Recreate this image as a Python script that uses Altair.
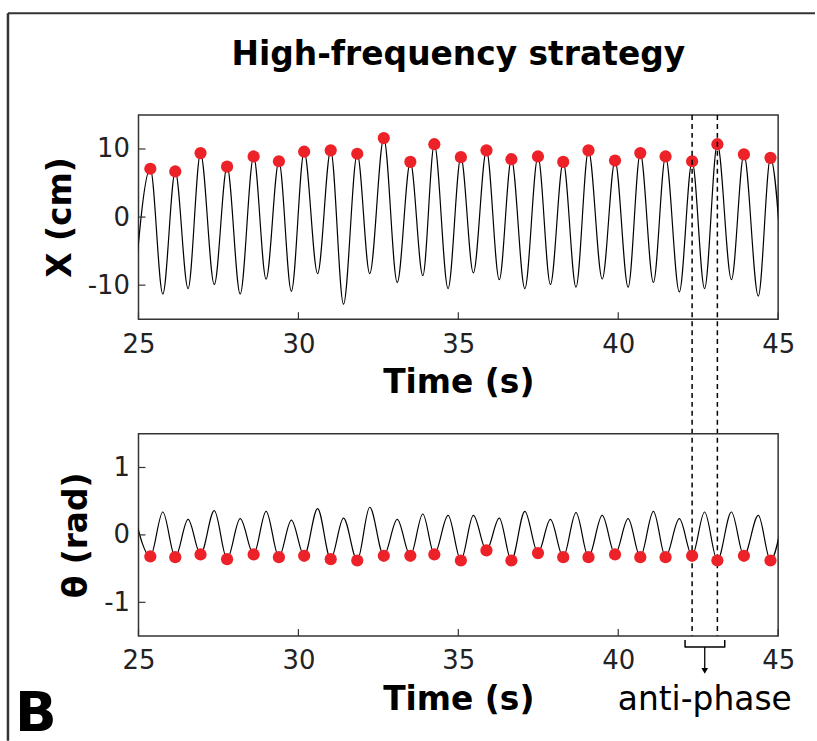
import altair as alt
import pandas as pd

# ---- data ----
# times of X maxima (= theta minima), red dots
peak_t = [25.37, 26.15, 26.94, 27.77, 28.60, 29.39, 30.18, 31.01, 31.84, 32.67, 33.50, 34.25, 35.08,
          35.88, 36.66, 37.49, 38.28, 39.07, 39.90, 40.69, 41.48, 42.31, 43.10, 43.93, 44.76]
x_peak = [7.1, 6.7, 9.4, 7.4, 8.9, 8.2, 9.6, 9.8, 9.3, 11.6, 8.1, 10.7, 8.8,
          9.8, 8.5, 8.9, 8.1, 9.8, 8.3, 9.4, 8.9, 8.2, 10.7, 9.2, 8.7]
theta_trough = [-0.32, -0.33, -0.29, -0.36, -0.29, -0.33, -0.31, -0.36, -0.38, -0.31, -0.31, -0.29, -0.38,
                -0.23, -0.38, -0.27, -0.33, -0.33, -0.29, -0.33, -0.33, -0.31, -0.38, -0.31, -0.38]
# times of X minima (= theta maxima), incl. one just outside each edge
trough_t = [24.87, 25.76, 26.55, 27.37, 28.18, 28.99, 29.78, 30.60, 31.41, 32.23, 33.09, 33.89, 34.68,
            35.47, 36.28, 37.08, 37.88, 38.68, 39.50, 40.31, 41.10, 41.91, 42.70, 43.54, 44.38, 45.16]
x_trough = [-10.5, -11.3, -10.5, -9.9, -11.3, -9.1, -10.9, -8.3, -12.8, -8.3, -9.6, -8.6, -10.5,
            -8.2, -9.2, -10.5, -9.9, -10.3, -9.1, -10.3, -9.6, -11.0, -10.5, -9.2, -11.6, -10.0]
theta_peak = [0.30, 0.34, 0.23, 0.36, 0.24, 0.35, 0.22, 0.39, 0.25, 0.41, 0.23, 0.31, 0.29,
              0.29, 0.25, 0.35, 0.23, 0.33, 0.29, 0.24, 0.35, 0.24, 0.34, 0.34, 0.29, 0.30]

anti_t = [42.31, 43.10]          # dashed anti-phase markers
bracket_t = [42.09, 43.33]       # bracket ends
x_ticks = [25, 30, 35, 40, 45]
x_yticks = [-10, 0, 10]
th_yticks = [-1, 0, 1]
title_text = "High-frequency strategy"

FONT = "DejaVu Sans"
RED = "#ED2228"
W, H1, H2 = 642, 205, 203

line_x = pd.DataFrame({"t": peak_t + trough_t, "v": x_peak + x_trough}).sort_values("t")
line_th = pd.DataFrame({"t": peak_t + trough_t, "v": theta_trough + theta_peak}).sort_values("t")
dots_x = pd.DataFrame({"t": peak_t, "v": x_peak})
dots_th = pd.DataFrame({"t": peak_t, "v": theta_trough})
anti_df = pd.DataFrame({"t": anti_t})
xt_df = pd.DataFrame({"t": x_ticks})

xscale = alt.Scale(domain=[25, 45], nice=False, zero=False)


def xaxis():
    return alt.Axis(values=x_ticks, ticks=False, domain=False, grid=False,
                    labelFontSize=26, labelFont=FONT, labelColor="#222", labelPadding=12,
                    labelFlush=False, labelOverlap=False,
                    title="Time (s)", titleFont=FONT, titleFontSize=33, titleFontWeight="bold",
                    titleColor="black", titlePadding=10)


def yaxis(vals, title):
    return alt.Axis(values=vals, ticks=False, domain=False, grid=False,
                    labelFontSize=26, labelFont=FONT, labelColor="#222", labelPadding=9,
                    labelExpr="'' + datum.value",
                    title=title, titleFont=FONT, titleFontSize=33, titleFontWeight="bold",
                    titleColor="black", titlePadding=10)


def panel(line_df, dots_df, ydom, yvals, ytitle, H):
    yscale = alt.Scale(domain=ydom, nice=False, zero=False)
    X = alt.X("t:Q", scale=xscale, axis=xaxis())
    Y = alt.Y("v:Q", scale=yscale, axis=yaxis(yvals, ytitle))
    line = alt.Chart(line_df).mark_line(color="black", strokeWidth=1.2, interpolate="monotone",
                                        clip=True).encode(x=X, y=Y)
    dots = alt.Chart(dots_df).mark_circle(color=RED, size=150, opacity=1).encode(x=X, y=Y)
    xt = alt.Chart(xt_df).mark_rule(color="#333", strokeWidth=1.2).encode(
        x=alt.X("t:Q", scale=xscale), y=alt.value(H), y2=alt.value(H - 7))
    yt = alt.Chart(pd.DataFrame({"v": yvals})).mark_rule(color="#333", strokeWidth=1.2).encode(
        y=alt.Y("v:Q", scale=yscale), x=alt.value(0), x2=alt.value(7))
    return [line, dots, xt, yt]


top_layers = panel(line_x, dots_x, [-15, 15], x_yticks, "X (cm)", H1)
dashed = alt.Chart(anti_df).mark_rule(color="black", strokeWidth=1.5, strokeDash=[5, 4]).encode(
    x=alt.X("t:Q", scale=xscale), y=alt.value(0), y2=alt.value(523))
one = anti_df.head(1)
frame_left = alt.Chart(one).mark_rule(color="#333", strokeWidth=2.5).encode(
    x=alt.value(-131), y=alt.value(-102), y2=alt.value(628))
frame_top = alt.Chart(one).mark_rule(color="#333", strokeWidth=2).encode(
    x=alt.value(-131), x2=alt.value(679), y=alt.value(-102))
title = alt.Chart(one).mark_text(text=title_text, font=FONT, fontSize=33, fontWeight="bold",
                                 color="black", align="center", baseline="alphabetic").encode(
    x=alt.value(W / 2), y=alt.value(-50))

top = alt.layer(*top_layers, dashed, frame_left, frame_top, title).properties(width=W, height=H1)

bot_layers = panel(line_th, dots_th, [-1.5, 1.5], th_yticks, "θ (rad)", H2)
br_df = pd.DataFrame({"t0": [bracket_t[0]], "t1": [bracket_t[1]],
                      "tc": [(anti_t[0] + anti_t[1]) / 2]})
br_h = alt.Chart(br_df).mark_rule(color="black", strokeWidth=1.5).encode(
    x=alt.X("t0:Q", scale=xscale), x2="t1:Q", y=alt.value(214))
br_l = alt.Chart(br_df).mark_rule(color="black", strokeWidth=1.5).encode(
    x=alt.X("t0:Q", scale=xscale), y=alt.value(207), y2=alt.value(214.5))
br_r = alt.Chart(br_df).mark_rule(color="black", strokeWidth=1.5).encode(
    x=alt.X("t1:Q", scale=xscale), y=alt.value(207), y2=alt.value(214.5))
arrow = alt.Chart(br_df).mark_rule(color="black", strokeWidth=1.3).encode(
    x=alt.X("tc:Q", scale=xscale), y=alt.value(214), y2=alt.value(238))
head = alt.Chart(br_df).mark_point(shape="triangle-down", filled=True, color="black",
                                   size=45, opacity=1).encode(
    x=alt.X("tc:Q", scale=xscale), y=alt.value(238))
label = alt.Chart(br_df).mark_text(text="anti-phase", font=FONT, fontSize=33, color="black",
                                   align="center", baseline="alphabetic").encode(
    x=alt.X("tc:Q", scale=xscale), y=alt.value(277))
letter = alt.Chart(br_df).mark_text(text="B", font=FONT, fontSize=55, fontWeight="bold",
                                    color="black", align="left", baseline="alphabetic").encode(
    x=alt.value(-124), y=alt.value(298))

bottom = alt.layer(*bot_layers, br_h, br_l, br_r, arrow, head, label, letter).properties(
    width=W, height=H2)

chart = alt.vconcat(top, bottom, spacing=115, bounds="flush").properties(
    padding={"left": 6, "top": 10, "right": 0, "bottom": 0},
    background="white",
).configure_view(stroke="#333", strokeWidth=1.5)

chart.save("out.html", embed_options={"renderer": "svg", "actions": False})
